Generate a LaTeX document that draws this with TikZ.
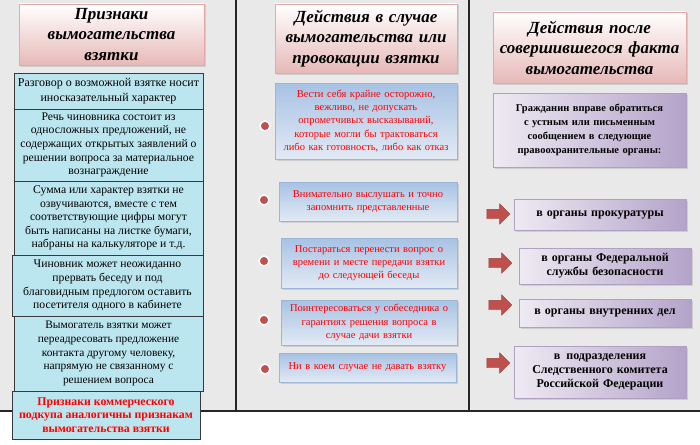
\documentclass[tikz,border=0pt]{standalone}
\usepackage{fontspec}
\setmainfont{Liberation Serif}
\usepackage{xcolor}
\usetikzlibrary{positioning, shapes.arrows, shadows}

\definecolor{panelgray}{HTML}{E9E9E9}
\definecolor{titlepink}{HTML}{E6B9B8}
\definecolor{titleedge}{HTML}{E4A8A8}
\definecolor{signcyan}{HTML}{BCE6EF}
\definecolor{signedge}{HTML}{3A3A3A}
\definecolor{actblue}{HTML}{A7C2E4}
\definecolor{actlight}{HTML}{E2EAF4}
\definecolor{actedge}{HTML}{9DB5D6}
\definecolor{appealdark}{HTML}{B4A3C9}
\definecolor{appeallight}{HTML}{EEEAF3}
\definecolor{appealedge}{HTML}{B0A0C4}
\definecolor{dotred}{HTML}{C0504D}
\definecolor{warnred}{HTML}{FF0000}

\begin{document}
\begin{tikzpicture}[x=1pt, y=-1pt,
  title/.style={draw=titleedge, line width=0.8pt, top color=white,
    bottom color=titlepink, align=center, inner xsep=3pt,
    font=\fontsize{17}{20.5}\selectfont\bfseries\itshape,
    drop shadow={opacity=0.25, shadow xshift=1.5pt, shadow yshift=-1.5pt}},
  sign/.style={draw=signedge, line width=0.9pt, fill=signcyan,
    align=center, inner xsep=2pt, minimum width=189pt,
    font=\fontsize{11.7}{13.6}\selectfont},
  act/.style={draw=actedge, line width=0.8pt, top color=actblue,
    bottom color=actlight, align=center, inner xsep=3pt, text=warnred,
    font=\fontsize{10.5}{13.2}\selectfont,
    drop shadow={opacity=0.25, shadow xshift=1.5pt, shadow yshift=-1.5pt}},
  appeal/.style={draw=appealedge, line width=0.8pt, left color=appeallight,
    right color=appealdark, align=center, inner xsep=3pt,
    font=\fontsize{10.5}{14}\selectfont\bfseries,
    drop shadow={opacity=0.25, shadow xshift=1.5pt, shadow yshift=-1.5pt}},
  organ/.style={appeal, font=\fontsize{12}{14}\selectfont\bfseries},
  dot/.style={circle, fill=dotred, draw=white, line width=1.6pt,
    minimum size=10pt, inner sep=0pt},
  pointer/.style={single arrow, fill=dotred, draw=dotred!80!black,
    line width=0.4pt, minimum height=23pt, inner sep=4.5pt,
    single arrow head extend=5.5pt}
]
  \useasboundingbox (0,0) rectangle (700,444);
  % Background panel and column rules
  \fill[panelgray] (0,0) rectangle (700,411);
  \draw[line width=1.2pt, black!85] (0,411) -- (700,411);
  \draw[line width=1.2pt, black!85] (236,0) -- (236,411);
  \draw[line width=1.2pt, black!85] (469,0) -- (469,411);

  % Left column: signs of extortion
  \node[title, text width=179pt, minimum height=61pt] (titleL) at (111.5,34.5)
    {Признаки\\вымогательства\\взятки};
  \node[sign, minimum height=36pt, font=\fontsize{12}{15}\selectfont]
    (sign1) at (108.5,91)
    {Разговор о возможной взятке носит\\иносказательный характер};
  \node[sign, minimum height=72pt] (sign2) at (108.5,145)
    {Речь чиновника состоит из\\односложных предложений, не\\содержащих
     открытых заявлений о\\решении вопроса за материальное\\вознаграждение};
  \node[sign, minimum height=74pt] (sign3) at (108.5,218)
    {Сумма или характер взятки не\\озвучиваются, вместе с тем\\соответствующие
     цифры могут\\быть написаны на листке бумаги,\\набраны на калькуляторе и т.д.};
  \node[sign, minimum width=191pt, minimum height=61pt] (sign4) at (107.5,285.5)
    {Чиновник может неожиданно\\прервать беседу и под\\благовидным
     предлогом оставить\\посетителя одного в кабинете};
  \node[sign, minimum height=75pt,
    font=\fontsize{11.4}{13.6}\selectfont] (sign5) at (108.5,353.5)
    {Вымогатель взятки может\\переадресовать предложение\\контакта другому
     человеку,\\напрямую не связанному с\\решением вопроса};
  \node[sign, minimum width=188pt, minimum height=48pt, text=warnred,
    font=\fontsize{11.8}{13.8}\selectfont\bfseries] (sign6) at (106,415)
    {Признаки коммерческого\\подкупа аналогичны признакам\\вымогательства взятки};

  % Middle column: what to do
  \node[title, text width=176pt, minimum height=69pt] (titleM) at (366,38.5)
    {Действия в случае\\вымогательства или\\провокации взятки};
  \node[act, text width=176pt, minimum height=76pt] (act1) at (366,121)
    {Вести себя крайне осторожно,\\вежливо, не допускать\\опрометчивых
     высказываний,\\которые могли бы трактоваться\\либо как готовность,
     либо как отказ};
  \node[act, text width=172pt, minimum height=39pt] (act2) at (368,201.5)
    {Внимательно выслушать и точно\\запомнить представленные};
  \node[act, text width=170pt, minimum height=50pt] (act3) at (369,263)
    {Постараться перенести вопрос о\\времени и месте передачи взятки\\до
     следующей беседы};
  \node[act, text width=170pt, minimum height=45pt] (act4) at (369,322.5)
    {Поинтересоваться у собеседника о\\гарантиях решения вопроса в\\случае
     дачи взятки};
  \node[act, text width=171pt, minimum height=29pt] (act5) at (367.5,367.5)
    {Ни в коем случае не давать взятку};
  % Bullets
  \foreach \i/\bx/\by in {1/265/126, 2/264/200, 3/264/261, 4/264/320, 5/265/369}{
    \node[dot] (dot\i) at (\bx,\by) {};
  }

  % Right column: where to turn
  \node[title, text width=187pt, minimum height=71pt] (titleR) at (589.5,47.5)
    {Действия после\\совершившегося факта\\вымогательства};
  \node[appeal, text width=187pt, minimum height=74pt] (appeal) at (589.5,130)
    {Гражданин вправе обратиться\\с устным или письменным\\сообщением
     в следующие\\правоохранительные органы:};
  \node[organ, text width=166pt, minimum height=31pt] (organ1) at (600,214.5)
    {в органы прокуратуры};
  \node[organ, text width=166pt, minimum height=36pt] (organ2) at (605,266)
    {в органы Федеральной\\службы безопасности};
  \node[organ, text width=166pt, minimum height=28pt] (organ3) at (605,313)
    {в органы внутренних дел};
  \node[organ, text width=166pt, minimum height=52pt] (organ4) at (600,372)
    {в\enspace подразделения\\Следственного комитета\\Российской Федерации};
  % Arrows
  \foreach \i/\ax/\ay in {1/496/214, 2/498/263, 3/498/305, 4/496/363}{
    \node[pointer] (arr\i) at (\ax,\ay) {};
  }
\end{tikzpicture}
\end{document}
